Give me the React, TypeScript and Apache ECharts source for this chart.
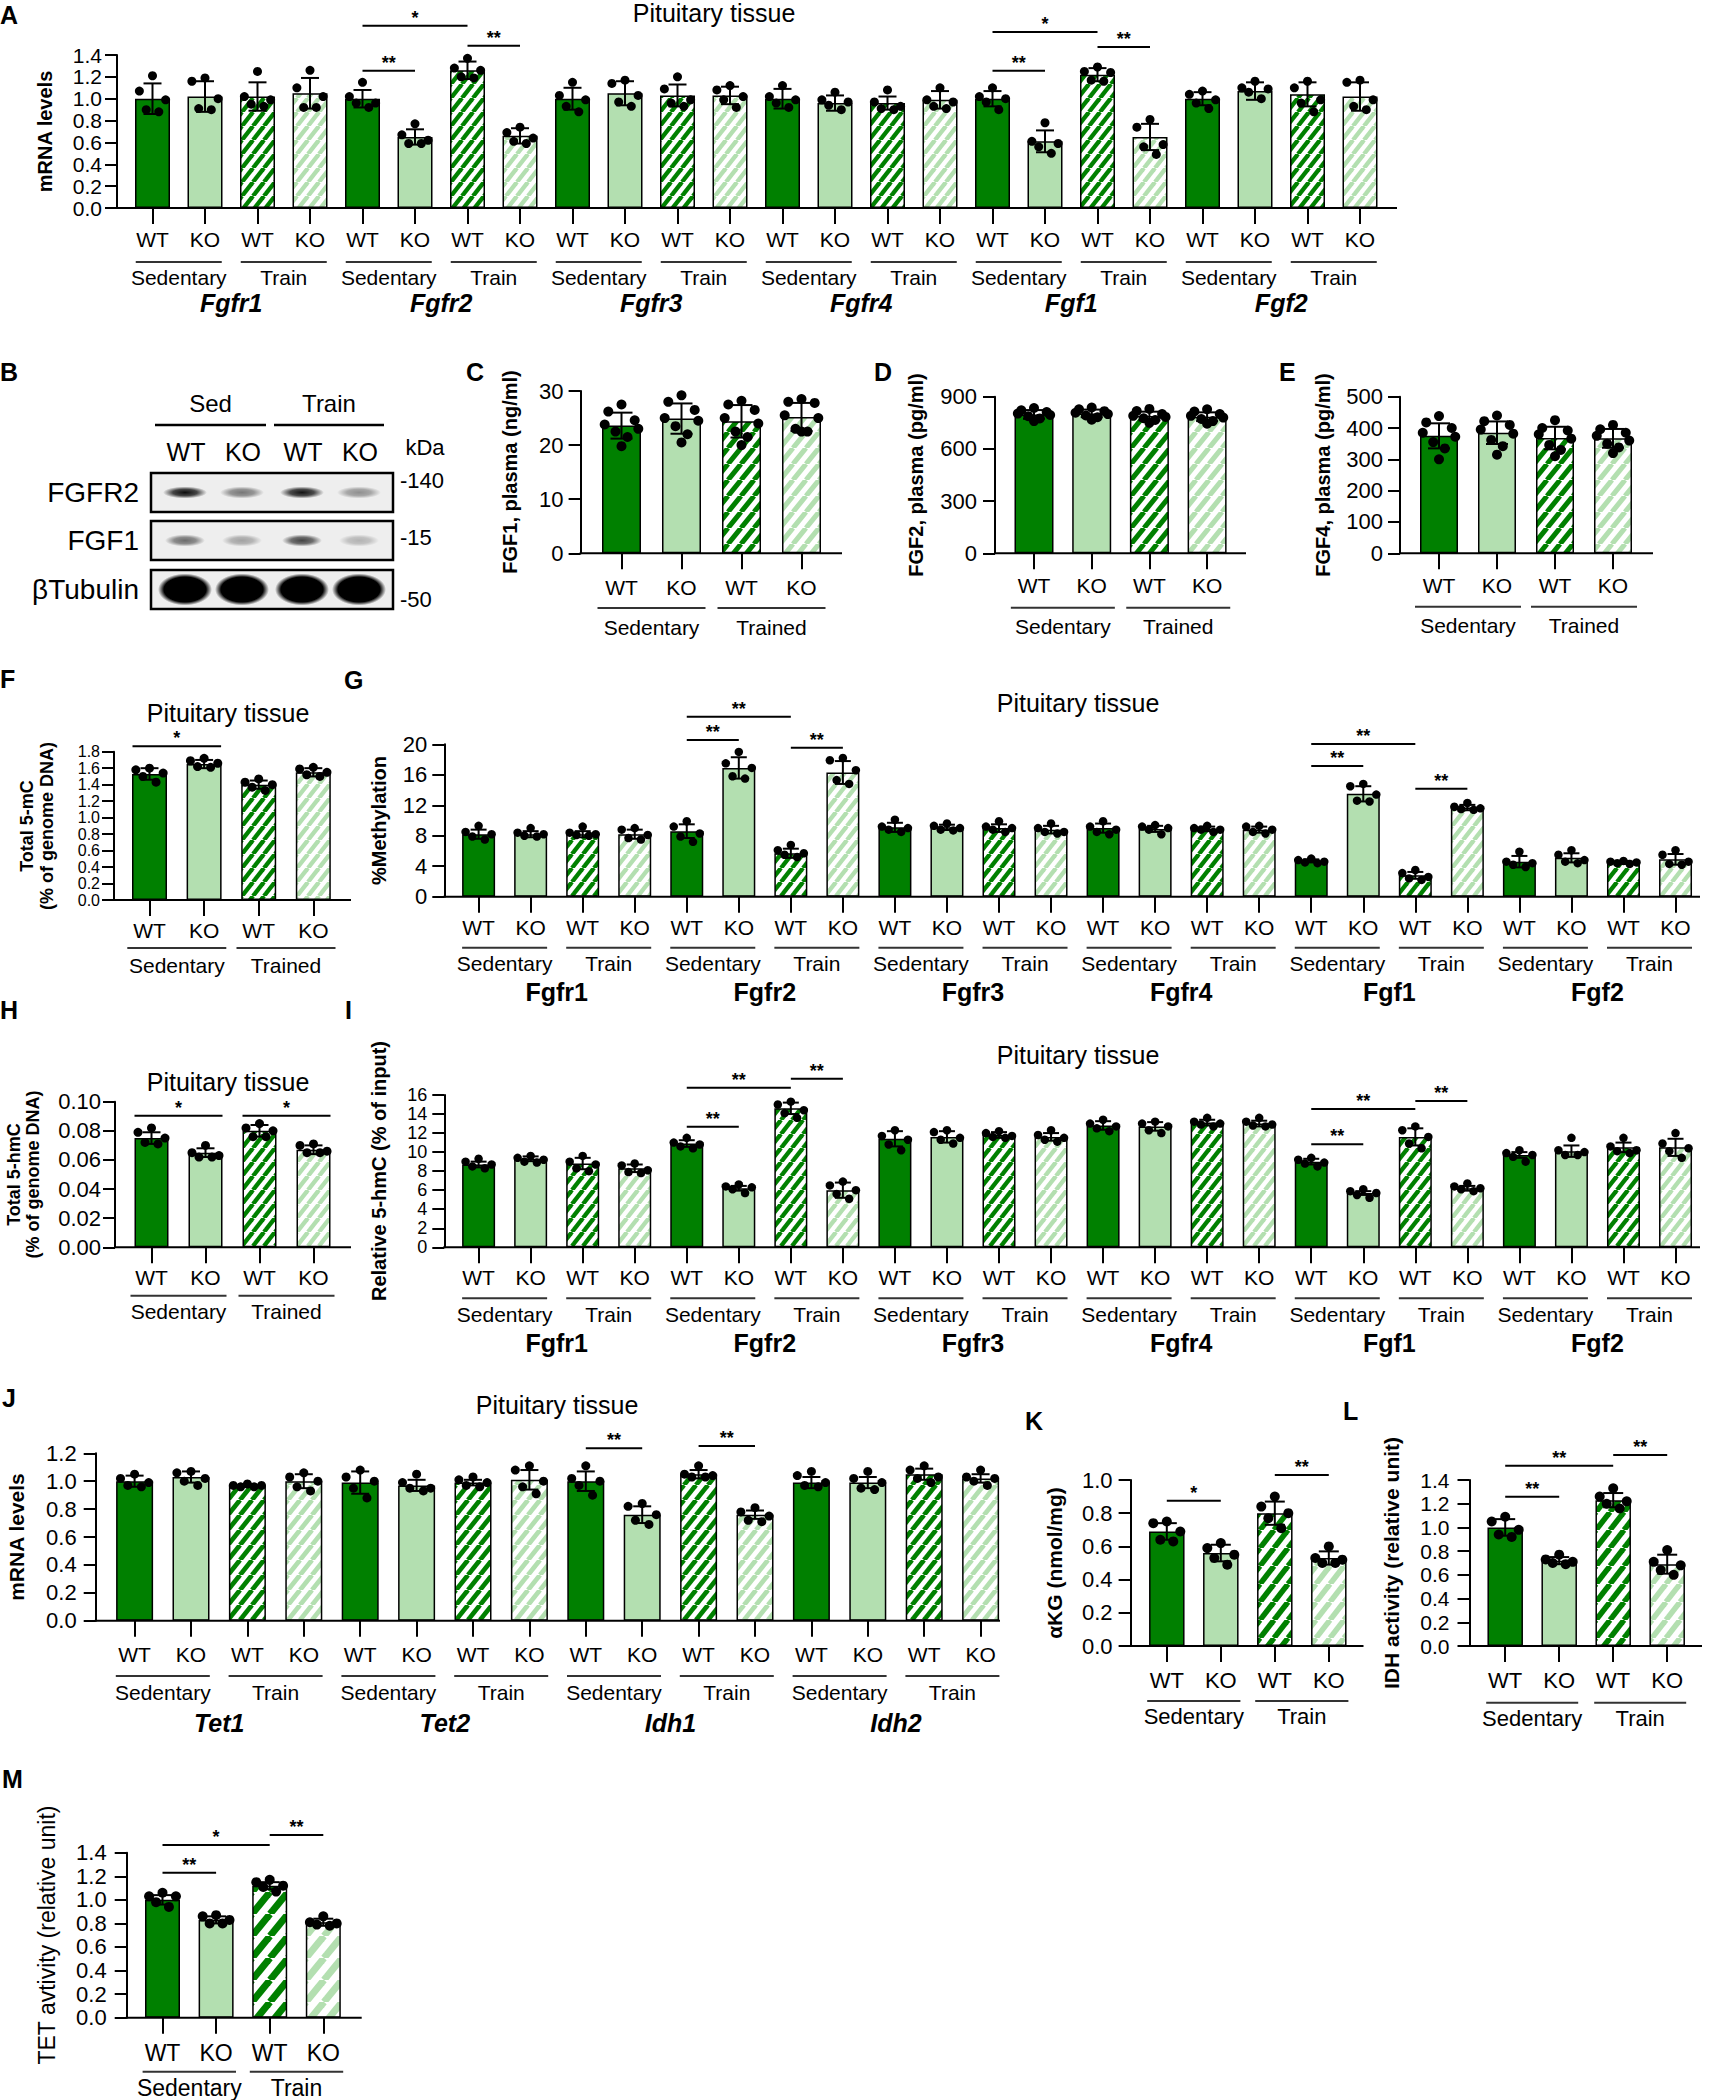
import React, { useEffect, useRef } from "react";
import * as echarts from "echarts";

// ---------------- DATA ----------------
const WT_KO = ["WT", "KO"];
const SED_TRAIN = ["Sedentary", "Train"];
const SED_TRAINED = ["Sedentary", "Trained"];
const FGF_GENES = ["Fgfr1", "Fgfr2", "Fgfr3", "Fgfr4", "Fgf1", "Fgf2"];
const J_GENES = ["Tet1", "Tet2", "Idh1", "Idh2"];
const TISSUE = "Pituitary tissue";

// A: mRNA levels
const A_MEAN = [1.0, 1.02, 1.02, 1.05, 1.0, 0.65, 1.26, 0.66, 1.0, 1.05, 1.03, 1.03, 1.0, 0.96, 0.96, 0.99, 1.0, 0.61, 1.22, 0.65, 1.0, 1.07, 1.04, 1.02];
const A_SD = [0.14, 0.14, 0.13, 0.14, 0.08, 0.07, 0.08, 0.07, 0.1, 0.11, 0.1, 0.08, 0.09, 0.07, 0.06, 0.08, 0.07, 0.1, 0.06, 0.12, 0.06, 0.08, 0.11, 0.13];
const A_PTS = [
  [1.21, 1.07, 0.99, 0.9, 0.88], [1.19, 1.16, 1.0, 0.91, 0.9], [1.25, 1.02, 0.99, 0.95, 0.93], [1.26, 1.1, 1.02, 0.92, 0.92],
  [1.15, 1.02, 0.96, 0.96, 0.92], [0.77, 0.67, 0.62, 0.59, 0.59], [1.37, 1.28, 1.26, 1.2, 1.19], [0.74, 0.69, 0.64, 0.61, 0.59],
  [1.15, 1.03, 0.99, 0.93, 0.88], [1.17, 1.14, 1.03, 0.97, 0.93], [1.2, 1.09, 0.99, 0.96, 0.93], [1.12, 1.08, 1.02, 0.99, 0.92],
  [1.12, 1.02, 0.99, 0.96, 0.92], [1.06, 0.99, 0.97, 0.94, 0.9], [1.08, 0.97, 0.93, 0.91, 0.9], [1.1, 0.99, 0.97, 0.93, 0.91],
  [1.1, 1.02, 1.0, 0.97, 0.9], [0.78, 0.61, 0.59, 0.56, 0.5], [1.29, 1.25, 1.24, 1.17, 1.16], [0.81, 0.74, 0.58, 0.56, 0.49],
  [1.07, 1.04, 0.99, 0.96, 0.91], [1.16, 1.1, 1.09, 1.06, 1.0], [1.16, 1.1, 0.99, 0.96, 0.88], [1.17, 1.15, 0.99, 0.93, 0.9],
];
const A_SIG = [[4, 5, 1.256, "**"], [4, 6, 1.668, "*"], [6, 7, 1.485, "**"], [16, 17, 1.256, "**"], [16, 18, 1.61, "*"], [18, 19, 1.473, "**"]];

// C: FGF1 plasma (ng/ml)
const C_MEAN = [23.6, 24.9, 24.4, 25.2];
const C_SD = [2.4, 2.8, 3.0, 2.6];
const C_PTS = [
  [27.5, 26.2, 24.6, 23.8, 23.0, 22.5, 21.5, 19.8],
  [29.2, 28.0, 26.5, 25.0, 24.5, 23.5, 22.0, 20.5],
  [28.2, 27.5, 26.5, 25.0, 24.0, 22.5, 21.5, 20.0],
  [28.5, 28.0, 27.8, 25.5, 25.0, 23.0, 22.5, 22.5],
];
// D: FGF2 plasma (pg/ml)
const D_MEAN = [798, 804, 789, 785];
const D_SD = [25, 22, 25, 25];
const D_PTS = [
  [835, 822, 812, 803, 795, 788, 775, 760],
  [838, 828, 817, 808, 800, 792, 782, 768],
  [830, 818, 800, 790, 784, 776, 766, 750],
  [828, 815, 800, 790, 780, 772, 760, 745],
];
// E: FGF4 plasma (pg/ml)
const E_MEAN = [375, 385, 368, 367];
const E_SD = [40, 36, 36, 30];
const E_PTS = [
  [438, 418, 400, 385, 372, 355, 335, 300],
  [440, 422, 410, 395, 382, 362, 342, 315],
  [425, 400, 392, 380, 366, 346, 330, 310],
  [410, 396, 385, 375, 360, 350, 338, 320],
];
// F: Total 5-mC
const F_MEAN = [1.53, 1.65, 1.4, 1.55];
const F_SD = [0.07, 0.05, 0.05, 0.05];
const F_PTS = [[1.6, 1.58, 1.54, 1.5, 1.43], [1.72, 1.69, 1.66, 1.62, 1.61], [1.47, 1.43, 1.4, 1.37, 1.33], [1.61, 1.59, 1.55, 1.52, 1.5]];
const F_SIG = [[0, 1, 1.865, "*"]];
// G: %Methylation
const G_MEAN = [8.2, 8.2, 8.2, 8.2, 8.6, 16.9, 5.7, 16.3, 9.1, 9.1, 9.0, 8.8, 9.0, 8.9, 8.9, 8.8, 4.7, 13.5, 2.8, 11.7, 4.6, 5.1, 4.5, 4.9];
const G_SD = [0.6, 0.4, 0.4, 0.6, 0.9, 1.4, 0.6, 1.5, 0.6, 0.35, 0.5, 0.5, 0.6, 0.4, 0.3, 0.4, 0.2, 1.0, 0.45, 0.35, 0.75, 0.6, 0.2, 0.7];
const G_PTS = [
  [9.3, 8.5, 8.2, 7.9, 7.5], [9.0, 8.4, 8.2, 8.0, 7.9], [9.2, 8.4, 8.2, 8.1, 8.0], [9.0, 8.8, 8.1, 7.7, 7.5],
  [9.9, 9.2, 8.3, 7.9, 7.2], [19.0, 17.5, 16.9, 15.8, 15.5], [6.8, 6.1, 5.7, 5.5, 5.2], [18.2, 17.9, 16.6, 15.3, 14.8],
  [10.1, 9.2, 9.0, 8.8, 8.5], [9.6, 9.3, 9.0, 8.8, 8.7], [9.9, 9.2, 9.0, 8.8, 8.5], [9.6, 9.0, 8.5, 8.5, 8.3],
  [9.9, 9.2, 8.8, 8.5, 8.2], [9.4, 9.2, 9.0, 8.8, 8.2], [9.3, 9.0, 8.8, 8.8, 8.5], [9.3, 9.2, 8.8, 8.5, 8.3],
  [5.0, 4.8, 4.6, 4.5, 4.4], [14.8, 14.5, 13.4, 12.6, 12.5], [3.5, 3.1, 2.6, 2.4, 2.2], [12.3, 11.8, 11.6, 11.5, 11.4],
  [5.9, 4.6, 4.4, 4.2, 3.9], [6.1, 5.5, 4.8, 4.6, 4.4], [4.7, 4.6, 4.5, 4.4, 4.3], [6.1, 5.5, 4.6, 4.3, 4.2],
];
const G_SIG = [[4, 5, 20.56, "**"], [4, 6, 23.62, "**"], [6, 7, 19.55, "**"], [16, 17, 17.15, "**"], [16, 18, 20.04, "**"], [18, 19, 14.17, "**"]];
// H: Total 5-hmC
const H_MEAN = [0.075, 0.065, 0.08, 0.067];
const H_SD = [0.004, 0.003, 0.004, 0.003];
const H_PTS = [[0.082, 0.079, 0.075, 0.072, 0.071], [0.07, 0.065, 0.063, 0.062, 0.062], [0.085, 0.082, 0.08, 0.076, 0.076], [0.071, 0.07, 0.066, 0.065, 0.065]];
const H_SIG = [[0, 1, 0.0904, "*"], [2, 3, 0.0904, "*"]];
// I: Relative 5-hmC
const I_MEAN = [8.7, 9.3, 8.8, 8.3, 10.9, 6.2, 14.6, 6.0, 11.4, 11.6, 11.8, 11.6, 12.8, 12.7, 13.1, 13.0, 9.0, 5.7, 11.6, 6.2, 9.7, 10.1, 10.5, 10.5];
const I_SD = [0.3, 0.25, 0.6, 0.4, 0.35, 0.25, 0.6, 0.8, 0.8, 0.6, 0.3, 0.4, 0.45, 0.45, 0.3, 0.3, 0.3, 0.2, 0.9, 0.25, 0.3, 0.6, 0.5, 0.9];
const I_PTS = [
  [9.3, 9.0, 8.7, 8.5, 8.3], [9.6, 9.4, 9.2, 9.0, 8.9], [9.6, 9.0, 8.7, 8.3, 8.0], [8.8, 8.6, 8.1, 7.9, 7.8],
  [11.5, 11.0, 10.8, 10.6, 10.4], [6.6, 6.4, 6.3, 6.1, 5.7], [15.3, 15.0, 14.4, 14.1, 13.6], [6.9, 6.5, 6.0, 5.6, 5.1],
  [12.3, 11.7, 11.3, 10.8, 10.2], [12.3, 12.1, 11.5, 11.3, 10.9], [12.2, 12.0, 11.7, 11.6, 11.5], [12.3, 11.8, 11.5, 11.3, 11.1],
  [13.4, 13.0, 12.7, 12.5, 12.2], [13.2, 13.0, 12.7, 12.3, 12.0], [13.6, 13.2, 13.0, 12.9, 12.7], [13.6, 13.2, 12.9, 12.8, 12.7],
  [9.4, 9.2, 8.9, 8.8, 8.5], [6.1, 5.9, 5.7, 5.5, 5.2], [12.7, 12.3, 11.6, 10.9, 10.4], [6.7, 6.4, 6.2, 6.1, 5.9],
  [10.2, 9.9, 9.7, 9.5, 9.0], [11.5, 10.2, 10.0, 9.7, 9.7], [11.5, 10.6, 10.2, 10.1, 9.9], [12.0, 10.9, 10.4, 10.1, 9.4],
];
const I_SIG = [[4, 5, 12.67, "**"], [4, 6, 16.76, "**"], [6, 7, 17.71, "**"], [16, 17, 10.82, "**"], [16, 18, 14.53, "**"], [18, 19, 15.37, "**"]];
// J: mRNA levels (Tet/Idh)
const J_MEAN = [1.0, 1.03, 0.97, 1.0, 0.99, 0.97, 0.99, 1.01, 1.0, 0.76, 1.05, 0.76, 0.99, 0.99, 1.05, 1.02];
const J_SD = [0.04, 0.04, 0.01, 0.05, 0.08, 0.04, 0.02, 0.07, 0.07, 0.06, 0.03, 0.03, 0.04, 0.04, 0.04, 0.03];
const J_PTS = [
  [1.05, 1.02, 0.99, 0.97, 0.96], [1.07, 1.06, 1.02, 1.0, 0.97], [0.98, 0.97, 0.97, 0.96, 0.96], [1.06, 1.03, 1.0, 0.96, 0.93],
  [1.08, 1.03, 1.0, 0.95, 0.88], [1.05, 0.99, 0.95, 0.95, 0.93], [1.03, 1.01, 0.99, 0.97, 0.96], [1.11, 1.08, 1.0, 0.96, 0.91],
  [1.11, 1.02, 1.0, 0.97, 0.9], [0.84, 0.82, 0.76, 0.72, 0.69], [1.11, 1.05, 1.04, 1.03, 1.03], [0.81, 0.78, 0.75, 0.72, 0.71],
  [1.07, 1.04, 0.99, 0.97, 0.96], [1.07, 1.02, 0.99, 0.95, 0.94], [1.11, 1.08, 1.03, 1.02, 0.99], [1.08, 1.03, 1.02, 1.0, 0.97],
];
const J_SIG = [[8, 9, 1.237, "**"], [10, 11, 1.253, "**"]];
// K: alphaKG
const K_MEAN = [0.69, 0.56, 0.8, 0.53];
const K_SD = [0.05, 0.05, 0.07, 0.04];
const K_PTS = [[0.75, 0.74, 0.69, 0.64, 0.63], [0.62, 0.59, 0.55, 0.53, 0.49], [0.9, 0.84, 0.8, 0.77, 0.71], [0.6, 0.53, 0.52, 0.5, 0.5]];
const K_SIG = [[0, 1, 0.875, "*"], [2, 3, 1.03, "**"]];
// L: IDH activity
const L_MEAN = [1.0, 0.72, 1.23, 0.69];
const L_SD = [0.07, 0.03, 0.06, 0.08];
const L_PTS = [[1.09, 1.05, 0.98, 0.94, 0.92], [0.77, 0.73, 0.71, 0.7, 0.69], [1.33, 1.26, 1.22, 1.2, 1.16], [0.81, 0.71, 0.68, 0.64, 0.6]];
const L_SIG = [[0, 1, 1.259, "**"], [0, 2, 1.52, "**"], [2, 3, 1.61, "**"]];
// M: TET activity
const M_MEAN = [1.0, 0.83, 1.12, 0.81];
const M_SD = [0.04, 0.03, 0.03, 0.03];
const M_PTS = [[1.06, 1.03, 1.03, 0.98, 0.94], [0.87, 0.86, 0.83, 0.8, 0.8], [1.17, 1.15, 1.12, 1.11, 1.07], [0.86, 0.81, 0.8, 0.79, 0.78]];
const M_SIG = [[0, 1, 1.23, "**"], [0, 2, 1.465, "*"], [2, 3, 1.55, "**"]];

// B: western blot
const BLOT_ROWS = ["FGFR2", "FGF1", "βTubulin"];
const BLOT_KDA = ["-140", "-15", "-50"];
const BLOT_GROUPS = ["Sed", "Train"];
const BLOT_INT = [[0.95, 0.5, 0.92, 0.4], [0.55, 0.32, 0.72, 0.25], [1, 1, 1, 1]];

// ---------------- STYLE / LAYOUT ----------------
const FONT = "'Liberation Sans', Arial, Helvetica, sans-serif";
const DARK = "#008000";
const LIGHT = "#b3dfb0";
const JIT5 = [0, -0.25, 0.25, -0.12, 0.12];
const JIT8 = [0, -0.22, 0.22, -0.28, 0.28, -0.1, 0.1, 0];

const PANELS: any[] = [
  { letter: ["A", 0, 15], axisX: 117, firstC: 152.5, step: 52.5, n: 24, topY: 55, baseY: 208, xEnd: 1397, max: 1.4, interval: 0.2, dec: 1,
    yFont: 21, yMargin: 15, xFont: 21, xMargin: 21, barW: 35, cap: 18, dot: 9, hatch: 14,
    mean: A_MEAN, sd: A_SD, pts: A_PTS, sig: A_SIG, sigExt: 0,
    groups: SED_TRAIN, gLineY: 262, gHalf: 43, gLabelY: 277, gFont: 21,
    genes: FGF_GENES, geneY: 303, geneItalic: true,
    title: [714, 13], yName: ["mRNA levels"], yNameX: [45], yNameY: 131.5, yNameFont: 20, yNameBold: true },
  { letter: ["C", 466, 372], axisX: 580.6, firstC: 621.5, step: 60, n: 4, topY: 391, baseY: 553.3, xEnd: 842, max: 30, interval: 10, dec: 0,
    yFont: 22, yMargin: 17, xFont: 21, xMargin: 24, barW: 39, cap: 22, dot: 10, hatch: 16,
    mean: C_MEAN, sd: C_SD, pts: C_PTS, sig: [], sigExt: 0,
    groups: SED_TRAINED, gLineY: 608, gHalf: 54, gLabelY: 627, gFont: 21,
    yName: ["FGF1, plasma (ng/ml)"], yNameX: [510], yNameY: 472, yNameFont: 20, yNameBold: true },
  { letter: ["D", 874, 372], axisX: 995, firstC: 1034, step: 57.7, n: 4, topY: 396.7, baseY: 553.3, xEnd: 1246, max: 900, interval: 300, dec: 0,
    yFont: 22, yMargin: 18, xFont: 21, xMargin: 22, barW: 39, cap: 22, dot: 10, hatch: 16,
    mean: D_MEAN, sd: D_SD, pts: D_PTS, sig: [], sigExt: 0,
    groups: SED_TRAINED, gLineY: 607.7, gHalf: 52, gLabelY: 626, gFont: 21,
    yName: ["FGF2, plasma (pg/ml)"], yNameX: [916], yNameY: 475, yNameFont: 20, yNameBold: true },
  { letter: ["E", 1279, 372], axisX: 1400, firstC: 1439, step: 58, n: 4, topY: 396.7, baseY: 553.3, xEnd: 1653, max: 500, interval: 100, dec: 0,
    yFont: 22, yMargin: 17, xFont: 21, xMargin: 22, barW: 38, cap: 22, dot: 10, hatch: 16,
    mean: E_MEAN, sd: E_SD, pts: E_PTS, sig: [], sigExt: 0,
    groups: SED_TRAINED, gLineY: 606.7, gHalf: 53, gLabelY: 625, gFont: 21,
    yName: ["FGF4, plasma (pg/ml)"], yNameX: [1323], yNameY: 475, yNameFont: 20, yNameBold: true },
  { letter: ["F", 0, 679], axisX: 114, firstC: 149.5, step: 54.6, n: 4, topY: 751.7, baseY: 900, xEnd: 351, max: 1.8, interval: 0.2, dec: 1,
    yFont: 16, yMargin: 14, xFont: 21, xMargin: 20, barW: 35, cap: 18, dot: 9, hatch: 14,
    mean: F_MEAN, sd: F_SD, pts: F_PTS, sig: F_SIG, sigExt: 17,
    groups: SED_TRAINED, gLineY: 948, gHalf: 49.5, gLabelY: 965, gFont: 21,
    title: [228, 713], yName: ["Total 5-mC", "(% of genome DNA)"], yNameX: [27, 47], yNameY: 826, yNameFont: 18, yNameBold: true },
  { letter: ["G", 344, 680], axisX: 444.3, firstC: 478.6, step: 52.04, n: 24, topY: 744.3, baseY: 896.7, xEnd: 1700, max: 20, interval: 4, dec: 0,
    yFont: 22, yMargin: 17, xFont: 21, xMargin: 20, barW: 33, cap: 16, dot: 8.5, hatch: 14,
    mean: G_MEAN, sd: G_SD, pts: G_PTS, sig: G_SIG, sigExt: 0,
    groups: SED_TRAIN, gLineY: 947.7, gHalf: 42.5, gLabelY: 963, gFont: 21,
    genes: FGF_GENES, geneY: 991.7, geneItalic: false,
    title: [1078, 703], yName: ["%Methylation"], yNameX: [378.5], yNameY: 820.5, yNameFont: 20, yNameBold: true },
  { letter: ["H", 0, 1010], axisX: 115, firstC: 151.5, step: 54, n: 4, topY: 1101.7, baseY: 1247.3, xEnd: 351, max: 0.1, interval: 0.02, dec: 2,
    yFont: 22, yMargin: 14, xFont: 21, xMargin: 20, barW: 34, cap: 18, dot: 9, hatch: 14,
    mean: H_MEAN, sd: H_SD, pts: H_PTS, sig: H_SIG, sigExt: 17,
    groups: SED_TRAINED, gLineY: 1295.7, gHalf: 48, gLabelY: 1311.7, gFont: 21,
    title: [228, 1081.7], yName: ["Total 5-hmC", "(% of genome DNA)"], yNameX: [14, 33], yNameY: 1174.5, yNameFont: 18, yNameBold: true },
  { letter: ["I", 345, 1010], axisX: 444.3, firstC: 478.6, step: 52.04, n: 24, topY: 1095, baseY: 1247.3, xEnd: 1700, max: 16, interval: 2, dec: 0,
    yFont: 18, yMargin: 17, xFont: 21, xMargin: 20, barW: 33, cap: 16, dot: 8.5, hatch: 14,
    mean: I_MEAN, sd: I_SD, pts: I_PTS, sig: I_SIG, sigExt: 0,
    groups: SED_TRAIN, gLineY: 1298.3, gHalf: 42.5, gLabelY: 1314, gFont: 21,
    genes: FGF_GENES, geneY: 1342.7, geneItalic: false,
    title: [1078, 1055], yName: ["Relative 5-hmC (% of input)"], yNameX: [379], yNameY: 1171, yNameFont: 20, yNameBold: true },
  { letter: ["J", 2, 1398], axisX: 95.7, firstC: 134.6, step: 56.4, n: 16, topY: 1453.3, baseY: 1620.7, xEnd: 1000, max: 1.2, interval: 0.2, dec: 1,
    yFont: 22, yMargin: 19, xFont: 21, xMargin: 23.5, barW: 37, cap: 18, dot: 9, hatch: 15,
    mean: J_MEAN, sd: J_SD, pts: J_PTS, sig: J_SIG, sigExt: 0,
    groups: SED_TRAIN, gLineY: 1676, gHalf: 47, gLabelY: 1692.7, gFont: 21,
    genes: J_GENES, geneY: 1723, geneItalic: true,
    title: [557, 1405], yName: ["mRNA levels"], yNameX: [16], yNameY: 1537, yNameFont: 21, yNameBold: true },
  { letter: ["K", 1025, 1421], axisX: 1130.6, firstC: 1166.8, step: 54, n: 4, topY: 1480, baseY: 1646, xEnd: 1363.5, max: 1.0, interval: 0.2, dec: 1,
    yFont: 22, yMargin: 18, xFont: 22, xMargin: 23, barW: 35.5, cap: 20, dot: 10, hatch: 18,
    mean: K_MEAN, sd: K_SD, pts: K_PTS, sig: K_SIG, sigExt: 0,
    groups: SED_TRAIN, gLineY: 1701, gHalf: 46.6, gLabelY: 1716.7, gFont: 22,
    yName: ["αKG (nmol/mg)"], yNameX: [1054.5], yNameY: 1563, yNameFont: 21, yNameBold: true },
  { letter: ["L", 1343, 1411], axisX: 1469.5, firstC: 1505.2, step: 54, n: 4, topY: 1480, baseY: 1646, xEnd: 1702, max: 1.4, interval: 0.2, dec: 1,
    yFont: 21, yMargin: 20, xFont: 22, xMargin: 23, barW: 35.5, cap: 20, dot: 10, hatch: 18,
    mean: L_MEAN, sd: L_SD, pts: L_PTS, sig: L_SIG, sigExt: 0,
    groups: SED_TRAIN, gLineY: 1702.7, gHalf: 46, gLabelY: 1718.3, gFont: 22,
    yName: ["IDH activity (relative unit)"], yNameX: [1391], yNameY: 1563, yNameFont: 21, yNameBold: true },
  { letter: ["M", 2, 1779], axisX: 126.7, firstC: 162.5, step: 53.6, n: 4, topY: 1852.7, baseY: 2017.7, xEnd: 361.7, max: 1.4, interval: 0.2, dec: 1,
    yFont: 22, yMargin: 20, xFont: 23, xMargin: 23.5, barW: 35, cap: 20, dot: 10, hatch: 22,
    mean: M_MEAN, sd: M_SD, pts: M_PTS, sig: M_SIG, sigExt: 0,
    groups: SED_TRAIN, gLineY: 2071.7, gHalf: 46.7, gLabelY: 2088.3, gFont: 23,
    yName: ["TET avtivity (relative unit)"], yNameX: [46.7], yNameY: 1935, yNameFont: 23, yNameBold: false },
];

function makeHatch(color: string, h: number) {
  const w = Math.round(h * 0.8);
  const c = document.createElement("canvas");
  c.width = w;
  c.height = h;
  const ctx = c.getContext("2d") as CanvasRenderingContext2D;
  ctx.fillStyle = "#ffffff";
  ctx.fillRect(0, 0, w, h);
  ctx.strokeStyle = color;
  ctx.lineWidth = ((w * h) / Math.hypot(w, h)) * 0.5;
  for (let k = -1; k <= 1; k++) {
    ctx.beginPath();
    ctx.moveTo(k * w, h);
    ctx.lineTo((k + 1) * w, 0);
    ctx.stroke();
  }
  return c;
}

function txt(text: string, x: number, y: number, size: number, opts: any = {}) {
  const weight = opts.bold ? "bold" : "normal";
  const style = opts.italic ? "italic" : "normal";
  return {
    type: "text",
    x,
    y,
    rotation: opts.rotation || 0,
    z: 50,
    silent: true,
    style: {
      text,
      fill: opts.color || "#000",
      font: `${style} ${weight} ${size}px ${FONT}`,
      align: opts.align || "center",
      verticalAlign: "middle",
      textAlign: opts.align || "center",
      textVerticalAlign: "middle",
    },
  };
}

function line(x1: number, y1: number, x2: number, y2: number, w = 2, color = "#000") {
  return { type: "line", z: 50, silent: true, shape: { x1, y1, x2, y2 }, style: { stroke: color, lineWidth: w } };
}

function buildOption() {
  const hatchCache: any = {};
  const fillFor = (kind: number, h: number) => {
    if (kind === 0) return DARK;
    if (kind === 1) return LIGHT;
    const key = kind + "_" + h;
    if (!hatchCache[key]) hatchCache[key] = { image: makeHatch(kind === 2 ? DARK : LIGHT, h), repeat: "repeat" };
    return hatchCache[key];
  };

  const grid: any[] = [];
  const xAxis: any[] = [];
  const yAxis: any[] = [];
  const series: any[] = [];
  const g: any[] = [];

  PANELS.forEach((p) => {
    const gi = grid.length;
    const left = p.firstC - p.step / 2;
    const width = p.step * p.n;
    grid.push({ left, top: p.topY, width, height: p.baseY - p.topY, containLabel: false });
    const xi = xAxis.length;
    xAxis.push({
      type: "category",
      gridIndex: gi,
      data: Array.from({ length: p.n }, (_, i) => WT_KO[i % 2]),
      axisLine: { show: false, onZero: false },
      axisTick: { show: true, alignWithLabel: true, length: 16, lineStyle: { color: "#000", width: 2 } },
      axisLabel: { interval: 0, fontSize: p.xFont, margin: p.xMargin, color: "#000", fontFamily: FONT, lineHeight: p.xFont },
      splitLine: { show: false },
    });
    xAxis.push({ type: "value", gridIndex: gi, min: -0.5, max: p.n - 0.5, show: false, axisLine: { onZero: false } });
    const yi = yAxis.length;
    yAxis.push({
      type: "value",
      gridIndex: gi,
      min: 0,
      max: p.max,
      interval: p.interval,
      offset: left - p.axisX,
      axisLine: { show: true, onZero: false, lineStyle: { color: "#000", width: 2 } },
      axisTick: { show: true, length: 12, lineStyle: { color: "#000", width: 2 } },
      axisLabel: {
        fontSize: p.yFont,
        margin: p.yMargin,
        color: "#000",
        fontFamily: FONT,
        showMinLabel: true,
        showMaxLabel: true,
        hideOverlap: false,
        formatter: (v: number) => v.toFixed(p.dec),
      },
      splitLine: { show: false },
    });

    series.push({
      type: "bar",
      xAxisIndex: xi,
      yAxisIndex: yi,
      barWidth: p.barW,
      silent: true,
      z: 2,
      itemStyle: { borderColor: "#000", borderWidth: 1.5 },
      data: p.mean.map((m: number, i: number) => ({ value: m, itemStyle: { color: fillFor(i % 4, p.hatch) } })),
    });

    const cap = p.cap;
    series.push({
      type: "custom",
      xAxisIndex: xi,
      yAxisIndex: yi,
      z: 3,
      silent: true,
      encode: { x: 0, y: 1 },
      data: p.mean.map((m: number, i: number) => [i, m, p.sd[i]]),
      renderItem: (params: any, api: any) => {
        const i = api.value(0);
        const m = api.value(1);
        const s = api.value(2);
        const t = api.coord([i, m + s]);
        const b = api.coord([i, m - s]);
        const x = t[0];
        const h = cap / 2;
        const st = { stroke: "#000", lineWidth: 2 };
        return {
          type: "group",
          children: [
            { type: "line", shape: { x1: x, y1: t[1], x2: x, y2: b[1] }, style: st },
            { type: "line", shape: { x1: x - h, y1: t[1], x2: x + h, y2: t[1] }, style: st },
            { type: "line", shape: { x1: x - h, y1: b[1], x2: x + h, y2: b[1] }, style: st },
          ],
        };
      },
    });

    const dots: number[][] = [];
    p.pts.forEach((arr: number[], i: number) => {
      const jit = arr.length > 5 ? JIT8 : JIT5;
      arr.forEach((v, k) => dots.push([i + jit[k % jit.length], v]));
    });
    series.push({
      type: "scatter",
      xAxisIndex: xi + 1,
      yAxisIndex: yi,
      z: 4,
      silent: true,
      symbol: "circle",
      symbolSize: p.dot,
      itemStyle: { color: "#000", opacity: 1 },
      data: dots,
    });

    if (p.sig.length) {
      const texts = p.sig.map((s: any[]) => s[3]);
      const ext = p.sigExt;
      series.push({
        type: "custom",
        xAxisIndex: xi,
        yAxisIndex: yi,
        z: 5,
        silent: true,
        clip: false,
        encode: { x: 0, y: 2 },
        data: p.sig.map((s: any[]) => [s[0], s[1], s[2]]),
        renderItem: (params: any, api: any) => {
          const a = api.value(0);
          const b = api.value(1);
          const v = api.value(2);
          const pa = api.coord([a, v]);
          const pb = api.coord([b, v]);
          const x1 = pa[0] - ext;
          const x2 = pb[0] + ext;
          const y = pa[1];
          return {
            type: "group",
            children: [
              { type: "line", shape: { x1, y1: y, x2, y2: y }, style: { stroke: "#000", lineWidth: 2 } },
              {
                type: "text",
                x: (x1 + x2) / 2,
                y: y - 8,
                style: {
                  text: texts[params.dataIndex],
                  fill: "#000",
                  font: `bold 18px ${FONT}`,
                  align: "center",
                  verticalAlign: "middle",
                  textAlign: "center",
                  textVerticalAlign: "middle",
                },
              },
            ],
          };
        },
      });
    }

    // x axis line (spans from y axis to end)
    g.push(line(p.axisX - 1, p.baseY, p.xEnd, p.baseY, 2));
    // group lines + labels
    for (let k = 0; k < p.n / 2; k++) {
      const cx = left + (2 * k + 1) * p.step;
      g.push(line(cx - p.gHalf, p.gLineY, cx + p.gHalf, p.gLineY, 2, "#333"));
      g.push(txt(p.groups[k % p.groups.length], cx, p.gLabelY, p.gFont));
    }
    if (p.genes) {
      p.genes.forEach((gn: string, k: number) => {
        const cx = left + (4 * k + 2) * p.step;
        g.push(txt(gn, cx, p.geneY, 25, { bold: true, italic: p.geneItalic }));
      });
    }
    if (p.title) g.push(txt(TISSUE, p.title[0], p.title[1], 25));
    p.yName.forEach((nm: string, k: number) => {
      g.push(txt(nm, p.yNameX[k], p.yNameY, p.yNameFont, { bold: p.yNameBold, rotation: Math.PI / 2 }));
    });
    g.push(txt(p.letter[0], p.letter[1], p.letter[2], 25, { bold: true, align: "left" }));
  });

  // ---- Panel B: western blot ----
  g.push(txt("B", 0, 372, 25, { bold: true, align: "left" }));
  const laneX = [185, 242, 302, 359];
  const grpX = [210.5, 329];
  BLOT_GROUPS.forEach((s, k) => {
    g.push(txt(s, grpX[k], 403, 24));
  });
  g.push(line(155, 425, 266, 425, 2.5));
  g.push(line(274, 425, 384, 425, 2.5));
  laneX.forEach((x, k) => g.push(txt(WT_KO[k % 2], x + 1, 452, 25)));
  g.push(txt("kDa", 425, 447, 22));
  const rowTop = [473, 521, 570];
  const rowH = 39;
  const bandRx = [22, 20, 27];
  const bandRy = [6, 6, 16];
  const kdaY = [480, 537, 599];
  BLOT_ROWS.forEach((name, r) => {
    g.push({ type: "rect", z: 40, silent: true, shape: { x: 151, y: rowTop[r], width: 242, height: rowH }, style: { fill: "#eeeeee", stroke: "#000", lineWidth: 2.5 } });
    const cy = rowTop[r] + rowH / 2;
    BLOT_INT[r].forEach((a, l) => {
      const solid = r === 2;
      g.push({
        type: "ellipse",
        z: 41,
        silent: true,
        shape: { cx: laneX[l], cy: cy, rx: bandRx[r], ry: bandRy[r] },
        style: {
          fill: {
            type: "radial",
            x: 0.5,
            y: 0.5,
            r: 0.5,
            colorStops: solid
              ? [{ offset: 0, color: "rgba(0,0,0,1)" }, { offset: 0.78, color: "rgba(0,0,0,1)" }, { offset: 1, color: "rgba(0,0,0,0)" }]
              : [{ offset: 0, color: `rgba(0,0,0,${a})` }, { offset: 0.55, color: `rgba(0,0,0,${a * 0.75})` }, { offset: 1, color: "rgba(0,0,0,0)" }],
          },
        },
      });
    });
    g.push(txt(name, 139, cy, 28, { align: "right" }));
    g.push(txt(BLOT_KDA[r], 400, kdaY[r], 22, { align: "left" }));
  });

  return {
    animation: false,
    backgroundColor: "#ffffff",
    textStyle: { fontFamily: FONT },
    grid,
    xAxis,
    yAxis,
    series,
    graphic: { elements: g },
  };
}

export default function App() {
  const ref = useRef<HTMLDivElement>(null);
  useEffect(() => {
    if (!ref.current) return;
    const chart = echarts.init(ref.current, undefined, { renderer: "svg" });
    chart.setOption(buildOption() as any);
    return () => chart.dispose();
  }, []);
  return <div ref={ref} style={{ position: "absolute", left: 0, top: 0, width: 1713, height: 2100, background: "#fff" }} />;
}
